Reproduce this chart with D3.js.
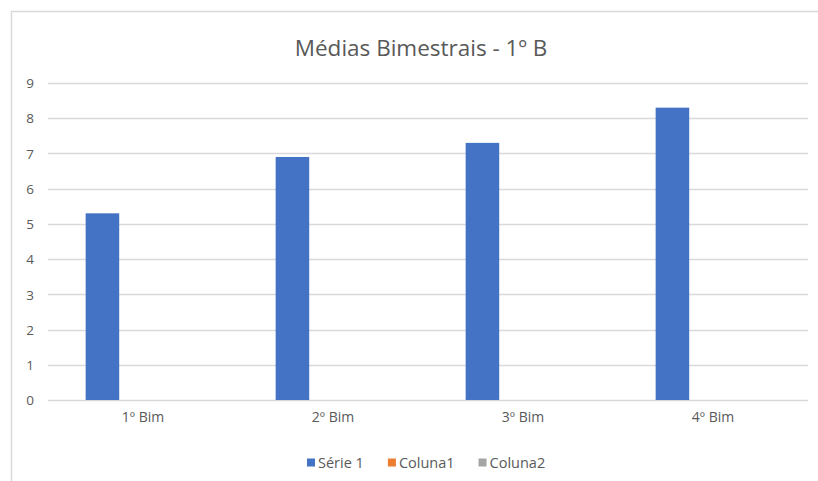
<!DOCTYPE html>
<html>
<head>
<meta charset="utf-8">
<script src="https://cdn.jsdelivr.net/npm/d3@7"></script>
<style>
  html, body { margin: 0; padding: 0; background: #fff; }
  svg { display: block; }
  text { font-family: "Open Sans", Lato, sans-serif; fill: #595959; }
</style>
</head>
<body>
<svg id="chart" width="818" height="481"></svg>
<script>
const categories = ["1º Bim", "2º Bim", "3º Bim", "4º Bim"];
const seriesNames = ["Série 1", "Coluna1", "Coluna2"];
const serie1 = [5.3, 6.9, 7.3, 8.3];
const coluna1 = [null, null, null, null];
const coluna2 = [null, null, null, null];
const yTicks = [0, 1, 2, 3, 4, 5, 6, 7, 8, 9];
const colors = ["#4472C4", "#ED7D31", "#A5A5A5"];
const title = "Médias Bimestrais - 1º B";

const seriesValues = [serie1, coluna1, coluna2];
const svg = d3.select("#chart");

// chart frame
svg.append("path")
  .attr("d", "M11.5,481 V11.5 H818")
  .attr("fill", "none")
  .attr("stroke", "#d9d9d9")
  .attr("stroke-width", 1.5);

const x0 = d3.scaleBand().domain(categories).range([41, 801])
  .paddingInner(0.47).paddingOuter(0.235);
const x1 = d3.scaleBand().domain(seriesNames).range([0, x0.bandwidth()]);
const y = d3.scaleLinear().domain([0, 9]).range([400, 83]);

// gridlines
svg.append("g").selectAll("line").data(yTicks).join("line")
  .attr("x1", 48).attr("x2", 808)
  .attr("y1", d => Math.round(y(d)) + 0.5).attr("y2", d => Math.round(y(d)) + 0.5)
  .attr("stroke", "#d9d9d9").attr("stroke-width", 1.3);

// y labels
const yAxis = d3.axisLeft(y).tickValues(yTicks).tickSize(0).tickPadding(0);
const gy = svg.append("g").attr("transform", "translate(34,0)").call(yAxis);
gy.select(".domain").remove();
gy.selectAll("text").style("font-size", "13.5px").attr("fill", "#595959")
  .style("font-family", "\"Open Sans\", sans-serif")
  .attr("text-anchor", "end").attr("dy", "0.35em");

// bars
const rows = categories.map((c, i) => ({
  cat: c,
  vals: seriesNames.map((s, j) => ({ s, j, v: seriesValues[j][i] }))
}));
svg.append("g").selectAll("g").data(rows).join("g")
  .attr("transform", d => `translate(${x0(d.cat)},0)`)
  .selectAll("rect").data(d => d.vals.filter(v => v.v != null)).join("rect")
  .attr("x", d => x1(d.s))
  .attr("width", x1.bandwidth())
  .attr("y", d => y(d.v))
  .attr("height", d => y(0) - y(d.v))
  .attr("fill", d => colors[d.j]);

// x axis
const xAxis = d3.axisBottom(x0).tickSize(0).tickPadding(0);
const gx = svg.append("g").attr("transform", "translate(0,400)").call(xAxis);
gx.select(".domain").remove();
gx.selectAll("text").style("font-size", "14px").attr("fill", "#595959")
  .style("font-family", "\"Open Sans\", sans-serif")
  .attr("transform", "translate(7,0)")
  .attr("dy", "1.6em");

// title
svg.append("text")
  .attr("x", 421).attr("y", 56)
  .attr("text-anchor", "middle")
  .style("font-size", "22.5px")
  .text(title);

// legend: swatch + label, each item placed after the previous one
const legend = svg.append("g").attr("transform", "translate(307,463)");
let lx = 0;
seriesNames.forEach((s, i) => {
  legend.append("rect").attr("x", lx).attr("y", -4.5).attr("width", 8).attr("height", 8)
    .attr("fill", colors[i]);
  const t = legend.append("text").attr("x", lx + 11).attr("y", 0).attr("dy", "0.35em")
    .style("font-size", "14.5px").text(s);
  lx += 11 + t.node().getComputedTextLength() + 24;
});
</script>
</body>
</html>
